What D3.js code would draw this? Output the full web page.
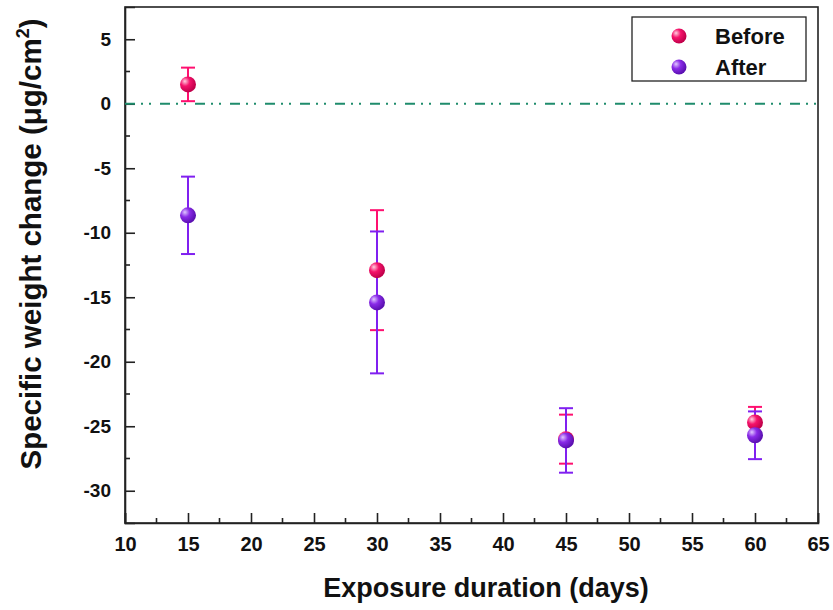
<!DOCTYPE html>
<html><head><meta charset="utf-8">
<script src="https://cdn.jsdelivr.net/npm/d3@7"></script>
<style>
body{margin:0;background:#fff;}
text{font-family:"Liberation Sans",Arial,sans-serif;font-weight:bold;}
</style></head><body>
<svg id="c" width="833" height="610"></svg>
<script>
const days = [15, 30, 45, 60];
const beforeMean = [1.5, -12.9, -26.0, -24.7];
const beforeErr = [1.3, 4.65, 1.9, 1.2];
const afterMean = [-8.65, -15.4, -26.1, -25.7];
const afterErr = [3.0, 5.5, 2.5, 1.85];
const xTicks = [10, 15, 20, 25, 30, 35, 40, 45, 50, 55, 60, 65];
const yTicks = [5, 0, -5, -10, -15, -20, -25, -30];
const seriesNames = ["Before", "After"];

const svg = d3.select("#c");
const L = 125, R = 818, T = 7, B = 523;
const x = d3.scaleLinear().domain([10, 65]).range([L, R]);
const y = d3.scaleLinear().domain([-32.5, 7.5]).range([B, T]);

// gradients
const defs = svg.append("defs");
function grad(id, light, base, dark){
  const g = defs.append("radialGradient").attr("id", id).attr("cx","35%").attr("cy","35%").attr("r","65%").attr("fx","30%").attr("fy","30%");
  g.append("stop").attr("offset","0%").attr("stop-color",light);
  g.append("stop").attr("offset","45%").attr("stop-color",base);
  g.append("stop").attr("offset","100%").attr("stop-color",dark);
}
grad("gB", "#ffd0e0", "#f5136b", "#c0004a");
grad("gA", "#e0c8ff", "#8a2be8", "#5a10b0");

// frame
svg.append("rect").attr("x", L).attr("y", T).attr("width", R - L).attr("height", B - T)
  .attr("fill", "none").attr("stroke", "#222").attr("stroke-width", 1.6);

const fmt = d => String(d);
// axes with inward ticks
const xAxis = d3.axisBottom(x).tickValues(xTicks).tickSize(-10).tickPadding(14).tickFormat(fmt);
const gx = svg.append("g").attr("transform", `translate(0,${B})`).call(xAxis);
gx.select(".domain").attr("stroke", "#222").attr("stroke-width", 1.6);
gx.selectAll(".tick line").attr("stroke", "#222").attr("stroke-width", 1.6);
gx.selectAll("text").attr("font-size", 20).attr("fill", "#111");
const xMinor = d3.range(12.5, 65, 5);
svg.append("g").selectAll("line").data(xMinor).join("line")
  .attr("x1", d => x(d)).attr("x2", d => x(d)).attr("y1", B).attr("y2", B - 5)
  .attr("stroke", "#222").attr("stroke-width", 1.6);

const yAxis = d3.axisLeft(y).tickValues(yTicks).tickSize(-10).tickPadding(14).tickFormat(fmt);
const gy = svg.append("g").attr("transform", `translate(${L},0)`).call(yAxis);
gy.select(".domain").attr("stroke", "#222").attr("stroke-width", 1.6);
gy.selectAll(".tick line").attr("stroke", "#222").attr("stroke-width", 1.6);
gy.selectAll("text").attr("font-size", 19).attr("fill", "#111");
const yMinor = d3.range(-32.5, 7.5, 5).filter(v => v > -32.5);
svg.append("g").selectAll("line").data(yMinor).join("line")
  .attr("x1", L).attr("x2", L + 5).attr("y1", d => y(d)).attr("y2", d => y(d))
  .attr("stroke", "#222").attr("stroke-width", 1.6);

// zero line
svg.append("line").attr("x1", L).attr("x2", R).attr("y1", y(0)).attr("y2", y(0))
  .attr("stroke", "#1f8c6c").attr("stroke-width", 2).attr("stroke-dasharray", "10,6,2,6,2,9");

// series
const series = [
  {name: seriesNames[0], mean: beforeMean, err: beforeErr, bar: "#ff1070", fill: "url(#gB)"},
  {name: seriesNames[1], mean: afterMean, err: afterErr, bar: "#8020f0", fill: "url(#gA)"}
];
series.forEach(s => {
  const g = svg.append("g");
  const pts = days.map((d, i) => ({d, m: s.mean[i], e: s.err[i]}));
  g.selectAll("line.v").data(pts).join("line").attr("class","v")
    .attr("x1", p => x(p.d)).attr("x2", p => x(p.d)).attr("y1", p => y(p.m + p.e)).attr("y2", p => y(p.m - p.e))
    .attr("stroke", s.bar).attr("stroke-width", 2);
  [1, -1].forEach(sg => {
    g.selectAll("line.c" + sg).data(pts).join("line")
      .attr("x1", p => x(p.d) - 7).attr("x2", p => x(p.d) + 7)
      .attr("y1", p => y(p.m + sg * p.e)).attr("y2", p => y(p.m + sg * p.e))
      .attr("stroke", s.bar).attr("stroke-width", 2);
  });
});
series.forEach(s => {
  svg.append("g").selectAll("circle").data(days.map((d, i) => ({d, m: s.mean[i]}))).join("circle")
    .attr("cx", p => x(p.d)).attr("cy", p => y(p.m)).attr("r", 8).attr("fill", s.fill);
});

// legend
const lg = svg.append("g");
lg.append("rect").attr("x", 632).attr("y", 17).attr("width", 174).attr("height", 64)
  .attr("fill", "#fff").attr("stroke", "#222").attr("stroke-width", 1.3);
series.forEach((s, i) => {
  lg.append("circle").attr("cx", 679).attr("cy", 36 + i * 31).attr("r", 7.5).attr("fill", s.fill);
  lg.append("text").attr("x", 715).attr("y", 36 + i * 31).attr("dy", "0.36em")
    .attr("font-size", 22).attr("fill", "#111").text(s.name);
});

// axis titles
svg.append("text").attr("x", 486).attr("y", 597).attr("text-anchor", "middle")
  .attr("font-size", 27).attr("fill", "#111").text("Exposure duration (days)");
const yt = svg.append("text").attr("transform", `translate(41,244) rotate(-90)`)
  .attr("text-anchor", "middle").attr("font-size", 29.5).attr("fill", "#111");
yt.append("tspan").text("Specific weight change (μg/cm");
yt.append("tspan").attr("font-size", 18).attr("dy", -12).text("2");
yt.append("tspan").attr("dy", 12).text(")");
</script>
</body></html>
